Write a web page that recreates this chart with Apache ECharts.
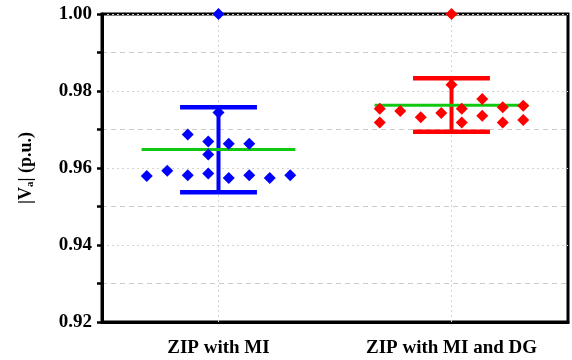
<!DOCTYPE html>
<html><head><meta charset="utf-8">
<script src="https://cdn.jsdelivr.net/npm/echarts@6/dist/echarts.min.js"></script>
<style>html,body{margin:0;padding:0;background:#fff}#c{width:572px;height:360px}</style>
</head><body><div id="c"></div>
<script>
const categories = ['ZIP with MI', 'ZIP with MI and DG'];
const yTickLabels = ['0.92', '0.94', '0.96', '0.98', '1.00'];
// jitter column of each point (0 = category centre)
const miJitter = [0, 0, -3.5, -2.5, -1.5, -1.5, -0.5, -0.5, -0.5, 0.5, 0.5, 1.5, 1.5, 2.5, 3.5];
const miValues = [1.0000, 0.9744, 0.9579, 0.9593, 0.9687, 0.9581, 0.9669, 0.9635, 0.9586, 0.9663, 0.9574, 0.9663, 0.9581, 0.9574, 0.9581];
const dgJitter = [0, 0, -3.5, -3.5, -2.5, -1.5, -0.5, 0.5, 0.5, 1.5, 1.5, 2.5, 2.5, 3.5, 3.5];
const dgValues = [1.0000, 0.9816, 0.9754, 0.9718, 0.9748, 0.9732, 0.9743, 0.9754, 0.9718, 0.9779, 0.9736, 0.9758, 0.9718, 0.9762, 0.9725];
const means = [0.9648, 0.9763];
const upper = [0.9758, 0.9833];
const lower = [0.9537, 0.9694];

const colors = ['#0000ff', '#ff0000'];
const meanColor = '#11c811';
const FONT = 'Liberation Serif';
const colStep = 0.088;

const chart = echarts.init(document.getElementById('c'));
function pts(ci, jit, vals) {
  return vals.map((v, i) => [ci + 0.5 + jit[i] * colStep, v]);
}
const option = {
  animation: false,
  grid: { left: 102, right: 4, top: 14, bottom: 38, show: true, borderColor: '#000', borderWidth: 3 },
  xAxis: [{
    type: 'category', data: categories, boundaryGap: true,
    axisLine: { lineStyle: { color: '#000', width: 3 } },
    axisTick: { alignWithLabel: true, length: 7, lineStyle: { color: '#000', width: 2.5 } },
    axisLabel: { color: '#000', fontFamily: FONT, fontWeight: 'bold', fontSize: 19, margin: 17 },
    splitLine: { show: false }
  }, {
    type: 'value', min: 0, max: 2, show: false
  }],
  yAxis: {
    type: 'value', min: 0.92, max: 1.0, interval: 0.02,
    name: '|V{sub|a}| (p.u.)', nameLocation: 'middle', nameGap: 66,
    nameTextStyle: { color: '#000', fontFamily: FONT, fontWeight: 'bold', fontSize: 18,
      rich: { sub: { fontFamily: FONT, fontWeight: 'bold', fontSize: 11, padding: [9, 0, 0, 0] } } },
    axisLine: { show: true, lineStyle: { color: '#000', width: 3 } },
    axisTick: { show: true, length: 5, lineStyle: { color: '#000', width: 2.5 } },
    minorTick: { show: true, splitNumber: 2, length: 5, lineStyle: { color: '#000', width: 2.5 } },
    axisLabel: { color: '#000', fontFamily: FONT, fontWeight: 'bold', fontSize: 19, margin: 10,
      formatter: (v) => { const i = Math.round((v - 0.92) / 0.02); return yTickLabels[i] || ''; } },
    splitLine: { show: true, lineStyle: { color: '#d4d4d4', width: 1, type: [2, 3] } },
    minorSplitLine: { show: true, lineStyle: { color: '#cccccc', width: 1.2, type: [5, 4] } }
  },
  series: [{
    type: 'custom', xAxisIndex: 0, z: 2,
    data: categories.map((c, i) => [i, means[i], upper[i], lower[i]]),
    encode: { x: 0, y: [1, 2, 3] },
    renderItem: function (params, api) {
      const i = api.value(0);
      const m = api.coord([i, api.value(1)]);
      const t = api.coord([i, api.value(2)]);
      const b = api.coord([i, api.value(3)]);
      const band = api.size([1, 0])[0];
      const col = colors[i];
      const cap = band * 0.165, mw = band * 0.33;
      return { type: 'group', children: [
        { type: 'line', shape: { x1: t[0], y1: t[1], x2: b[0], y2: b[1] }, style: { stroke: col, lineWidth: 4 } },
        { type: 'line', shape: { x1: t[0] - cap, y1: t[1], x2: t[0] + cap, y2: t[1] }, style: { stroke: col, lineWidth: 4.5 } },
        { type: 'line', shape: { x1: b[0] - cap, y1: b[1], x2: b[0] + cap, y2: b[1] }, style: { stroke: col, lineWidth: 4.5 } },
        { type: 'line', shape: { x1: m[0] - mw, y1: m[1], x2: m[0] + mw, y2: m[1] }, style: { stroke: meanColor, lineWidth: 3 } }
      ] };
    }
  }, {
    type: 'scatter', xAxisIndex: 1, z: 3, clip: false,
    symbol: 'diamond', symbolSize: 12,
    itemStyle: { color: colors[0], opacity: 1 },
    data: pts(0, miJitter, miValues),
    markLine: {
      silent: true, symbol: 'none', label: { show: false }, z: 1,
      lineStyle: { color: '#d4d4d4', width: 1, type: [2, 3] },
      data: [{ xAxis: 0.5 }, { xAxis: 1.5 }]
    }
  }, {
    type: 'scatter', xAxisIndex: 1, z: 3, clip: false,
    symbol: 'diamond', symbolSize: 12,
    itemStyle: { color: colors[1], opacity: 1 },
    data: pts(1, dgJitter, dgValues)
  }]
};
chart.setOption(option);
</script></body></html>
